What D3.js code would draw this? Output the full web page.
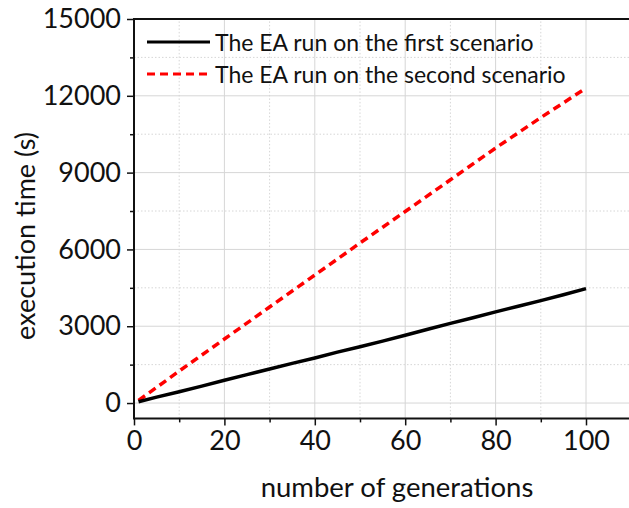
<!DOCTYPE html>
<html>
<head>
<meta charset="utf-8">
<script src="https://cdn.jsdelivr.net/npm/d3@7"></script>
<style>
html,body{margin:0;padding:0;background:#fff;overflow:hidden;}
svg{display:block;}
text{font-family:Lato,"Open Sans",sans-serif;fill:#111;}
</style>
</head>
<body>
<svg id="chart" width="629" height="508"></svg>
<script>
// ---- data ----
const generations1 = [1, 5, 10, 15, 20, 25, 30, 35, 40, 45, 50, 55, 60, 65, 70, 75, 80, 85, 90, 95, 100];
const timeScenario1 = [50, 230, 440, 660, 890, 1110, 1330, 1550, 1760, 1990, 2200, 2420, 2650, 2880, 3110, 3330, 3560, 3780, 4000, 4230, 4470];
const generations2 = [1, 10, 20, 30, 40, 50, 60, 70, 80, 90, 100];
const timeScenario2 = [100, 1250, 2500, 3750, 5000, 6250, 7480, 8720, 9960, 11150, 12300];
const seriesNames = ["The EA run on the first scenario", "The EA run on the second scenario"];
const xTicks = [0, 20, 40, 60, 80, 100];
const yTicks = [0, 3000, 6000, 9000, 12000, 15000];
const xTitle = "number of generations";
const yTitle = "execution time (s)";

// ---- layout ----
const svg = d3.select("#chart");
const x = d3.scaleLinear().domain([0, 110]).range([134, 631.2]);
const y = d3.scaleLinear().domain([-600, 15000]).range([418.4, 19]);
const x0 = x.range()[0], x1 = x.range()[1];
const yb = y.range()[0], yt = y.range()[1];

// gridlines
const xMinor = d3.range(10, 111, 20);
const yMinor = d3.range(1500, 15000, 3000);
const g = svg.append("g");
g.selectAll(".gxm").data(xTicks.filter(d => d > 0)).enter().append("line")
  .attr("x1", d => x(d)).attr("x2", d => x(d)).attr("y1", yb).attr("y2", yt)
  .attr("stroke", "#d6d6d6").attr("stroke-width", 1);
g.selectAll(".gxn").data(xMinor).enter().append("line")
  .attr("x1", d => x(d)).attr("x2", d => x(d)).attr("y1", yb).attr("y2", yt)
  .attr("stroke", "#d6d6d6").attr("stroke-width", 1).attr("stroke-dasharray", "1.5,2");
g.selectAll(".gym").data(yTicks.filter(d => d < 15000)).enter().append("line")
  .attr("x1", x0).attr("x2", x1).attr("y1", d => y(d)).attr("y2", d => y(d))
  .attr("stroke", "#d6d6d6").attr("stroke-width", 1);
g.selectAll(".gyn").data(yMinor).enter().append("line")
  .attr("x1", x0).attr("x2", x1).attr("y1", d => y(d)).attr("y2", d => y(d))
  .attr("stroke", "#d6d6d6").attr("stroke-width", 1).attr("stroke-dasharray", "1.5,2");

// data lines
const line = d3.line().x(d => x(d[0])).y(d => y(d[1]));
svg.append("path").datum(generations2.map((d, i) => [d, timeScenario2[i]]))
  .attr("d", line).attr("fill", "none").attr("stroke", "#ff0000")
  .attr("stroke-width", 3.5).attr("stroke-dasharray", "8,5");
svg.append("path").datum(generations1.map((d, i) => [d, timeScenario1[i]]))
  .attr("d", line).attr("fill", "none").attr("stroke", "#000")
  .attr("stroke-width", 3.5).attr("stroke-linejoin", "round");

// axes
const xAxis = d3.axisBottom(x).tickValues(xTicks).tickSize(7).tickPadding(5).tickFormat(d3.format("d"));
const yAxis = d3.axisLeft(y).tickValues(yTicks).tickSize(7).tickPadding(6).tickFormat(d3.format("d"));
const xAxisMinor = d3.axisBottom(x).tickValues(xMinor).tickSize(4).tickFormat("");
const yAxisMinor = d3.axisLeft(y).tickValues(yMinor).tickSize(4).tickFormat("");

function styleAxis(sel) {
  sel.select(".domain").remove();
  sel.selectAll("line").attr("stroke", "#111").attr("stroke-width", 1.5);
  sel.selectAll("text").style("font-family", "Lato, 'Open Sans', sans-serif").style("font-size", "27px").attr("fill", "#111");
}
svg.append("g").attr("transform", `translate(0,${yb})`).call(xAxis).call(styleAxis);
svg.append("g").attr("transform", `translate(0,${yb})`).call(xAxisMinor).call(styleAxis);
svg.append("g").attr("transform", `translate(${x0},0)`).call(yAxis).call(styleAxis);
svg.append("g").attr("transform", `translate(${x0},0)`).call(yAxisMinor).call(styleAxis);

// frame
svg.append("path")
  .attr("d", `M${x1},${yt}H${x0}V${yb}H${x1}`)
  .attr("fill", "none").attr("stroke", "#111").attr("stroke-width", 2);

// axis titles
svg.append("text").attr("x", 397).attr("y", 497).attr("text-anchor", "middle")
  .style("font-size", "27.5px").text(xTitle);
svg.append("text").attr("transform", "translate(35,236) rotate(-90)").attr("text-anchor", "middle")
  .style("font-size", "27px").text(yTitle);

// legend
const lg = svg.append("g");
lg.append("line").attr("x1", 147).attr("x2", 210).attr("y1", 42).attr("y2", 42)
  .attr("stroke", "#000").attr("stroke-width", 3);
lg.append("text").attr("x", 215).attr("y", 51).style("font-size", "23px").text(seriesNames[0]);
lg.append("line").attr("x1", 147).attr("x2", 210).attr("y1", 74).attr("y2", 74)
  .attr("stroke", "#ff0000").attr("stroke-width", 3).attr("stroke-dasharray", "8,5");
lg.append("text").attr("x", 215).attr("y", 83).style("font-size", "23px").text(seriesNames[1]);
</script>
</body>
</html>
